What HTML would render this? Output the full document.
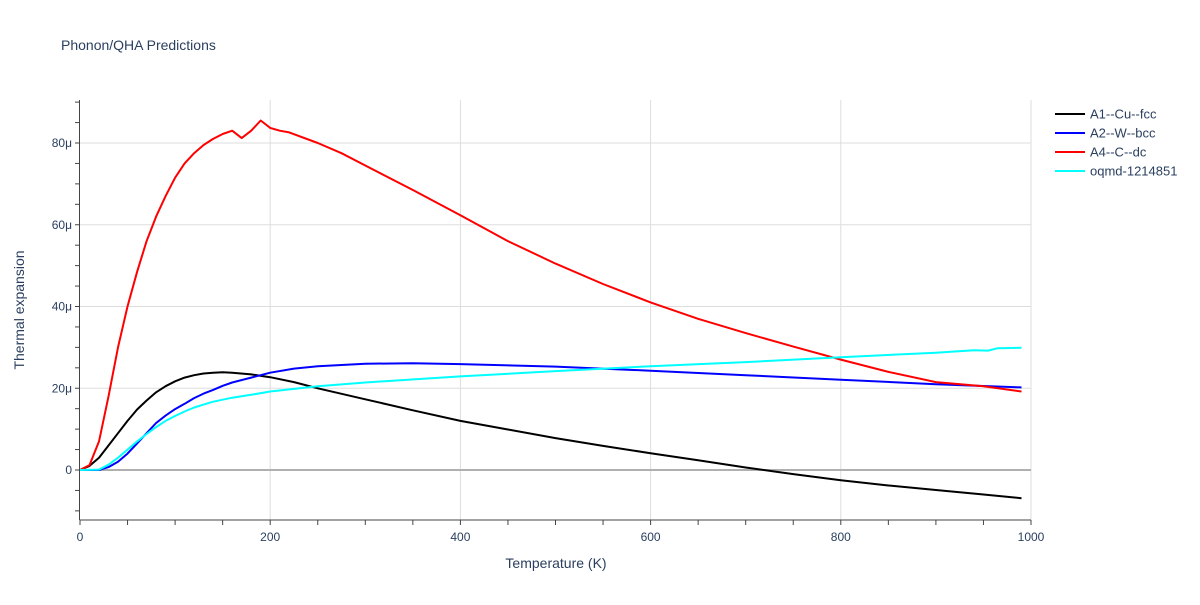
<!DOCTYPE html>
<html><head><meta charset="utf-8"><style>
body{margin:0;background:#fff;font-family:"Liberation Sans",sans-serif}
svg text{font-family:"Liberation Sans",sans-serif;fill:#2a3f5f}
</style></head><body>
<svg id="chart" width="1200" height="600" xmlns="http://www.w3.org/2000/svg">
<rect width="1200" height="600" fill="#fff"/>
<text x="61" y="50" font-size="14">Phonon/QHA Predictions</text>
<g id="grid"></g><g id="axes"></g><g id="series"></g><g id="legend"></g>
<text x="556" y="568" font-size="14" text-anchor="middle">Temperature (K)</text>
<text transform="translate(24,310) rotate(-90)" font-size="14" text-anchor="middle">Thermal expansion</text>
</svg>
<script>
const xTicks=[0,200,400,600,800,1000];
const yTicks=[0,20,40,60,80];
const yTickLabels=["0","20μ","40μ","60μ","80μ"];
const seriesNames=["A1--Cu--fcc","A2--W--bcc","A4--C--dc","oqmd-1214851"];
const seriesColors=["#000000","#0000ff","#ff0000","#00ffff"];
const cuT=[0,10,20,30,40,50,60,70,80,90,100,110,120,130,140,150,160,180,200,225,250,300,350,400,450,500,550,600,650,700,750,800,850,900,950,990];
const cuV=[0,1,3,6,9,12,14.8,17,19,20.5,21.7,22.6,23.2,23.6,23.8,23.9,23.8,23.4,22.7,21.5,20,17.3,14.6,12,9.9,7.8,5.9,4.1,2.4,0.6,-1,-2.5,-3.8,-4.9,-6,-6.9];
const wT=[0,20,30,40,50,60,70,80,90,100,110,120,130,140,150,160,180,200,225,250,300,350,400,500,600,700,800,900,990];
const wV=[0,0,0.7,2,4,6.5,9,11.5,13.3,14.9,16.2,17.6,18.7,19.6,20.6,21.4,22.6,23.8,24.8,25.4,26,26.1,25.9,25.3,24.3,23.2,22.1,21,20.2];
const cT=[0,10,20,30,40,50,60,70,80,90,100,110,120,130,140,150,160,170,180,190,200,210,220,250,275,300,350,400,450,500,550,600,650,700,750,800,850,900,950,990];
const cV=[0,1.2,7,18,30,40,48.5,56,62,67,71.5,75,77.5,79.5,81,82.2,83,81.2,83,85.5,83.7,83,82.6,80,77.5,74.5,68.5,62.3,56,50.5,45.5,41,37,33.5,30.2,27,24,21.5,20.5,19.2];
const oT=[0,20,30,40,50,60,70,80,90,100,110,120,130,140,150,160,180,200,250,300,400,500,600,700,800,900,940,955,965,990];
const oV=[0,0.1,1.3,3,5,7,8.8,10.5,12,13.2,14.3,15.3,16,16.7,17.2,17.7,18.4,19.2,20.5,21.4,22.9,24.2,25.4,26.4,27.6,28.7,29.3,29.2,29.8,29.9];
const NS="http://www.w3.org/2000/svg";
const X0=80,X1=1031,Y0=470,Yk=(470-143)/80;
const xs=t=>X0+(X1-X0)*t/1000, ys=v=>Y0-v*Yk;
function mk(tag,at,parent){const e=document.createElementNS(NS,tag);for(const k in at)e.setAttribute(k,at[k]);parent.appendChild(e);return e;}
const grid=document.getElementById('grid'),axes=document.getElementById('axes'),ser=document.getElementById('series'),leg=document.getElementById('legend');
xTicks.forEach(t=>{if(t===0)return;const l=mk('line',{x1:xs(t),x2:xs(t),y1:100,y2:520,stroke:'#ddd','stroke-width':1},grid);

});
yTicks.forEach((v,i)=>{const l=mk('line',{x1:80,x2:X1,y1:ys(v),y2:ys(v),stroke:v===0?'#b0b0b0':'#ddd','stroke-width':v===0?2:1},grid);


const tx=mk('text',{x:72,y:ys(v)+4,'font-size':12,'text-anchor':'end'},axes);tx.textContent=yTickLabels[i];

});
for(let v=-10;v<=90;v+=5){mk('line',{x1:75,x2:79,y1:ys(v),y2:ys(v),stroke:'#444'},axes);}
for(let t=0;t<=1000;t+=50){mk('line',{x1:xs(t),x2:xs(t),y1:520,y2:525,stroke:'#444'},axes);}
xTicks.forEach(t=>{const tx=mk('text',{x:xs(t),y:541,'font-size':12,'text-anchor':'middle'},axes);tx.textContent=t;

});
const ya=mk('line',{x1:79.5,x2:79.5,y1:100,y2:520,stroke:'#444'},axes);


const xa=mk('line',{x1:79.5,x2:X1,y1:520,y2:520,stroke:'#444'},axes);


const data=[[cuT,cuV],[wT,wV],[cT,cV],[oT,oV]];
data.forEach((d,i)=>{const pts=d[0].map((t,j)=>xs(t).toFixed(1)+','+ys(d[1][j]).toFixed(1)).join(' ');
const p=mk('polyline',{points:pts,fill:'none',stroke:seriesColors[i],'stroke-width':2,'stroke-linejoin':'round'},ser);


const y=114+i*19;
const g=mk('g',{},leg);


mk('line',{x1:1055,x2:1085,y1:y,y2:y,stroke:seriesColors[i],'stroke-width':2},g);
const tx=mk('text',{x:1090,y:y+4.5,'font-size':13},g);tx.textContent=seriesNames[i];});
</script>
</body></html>
